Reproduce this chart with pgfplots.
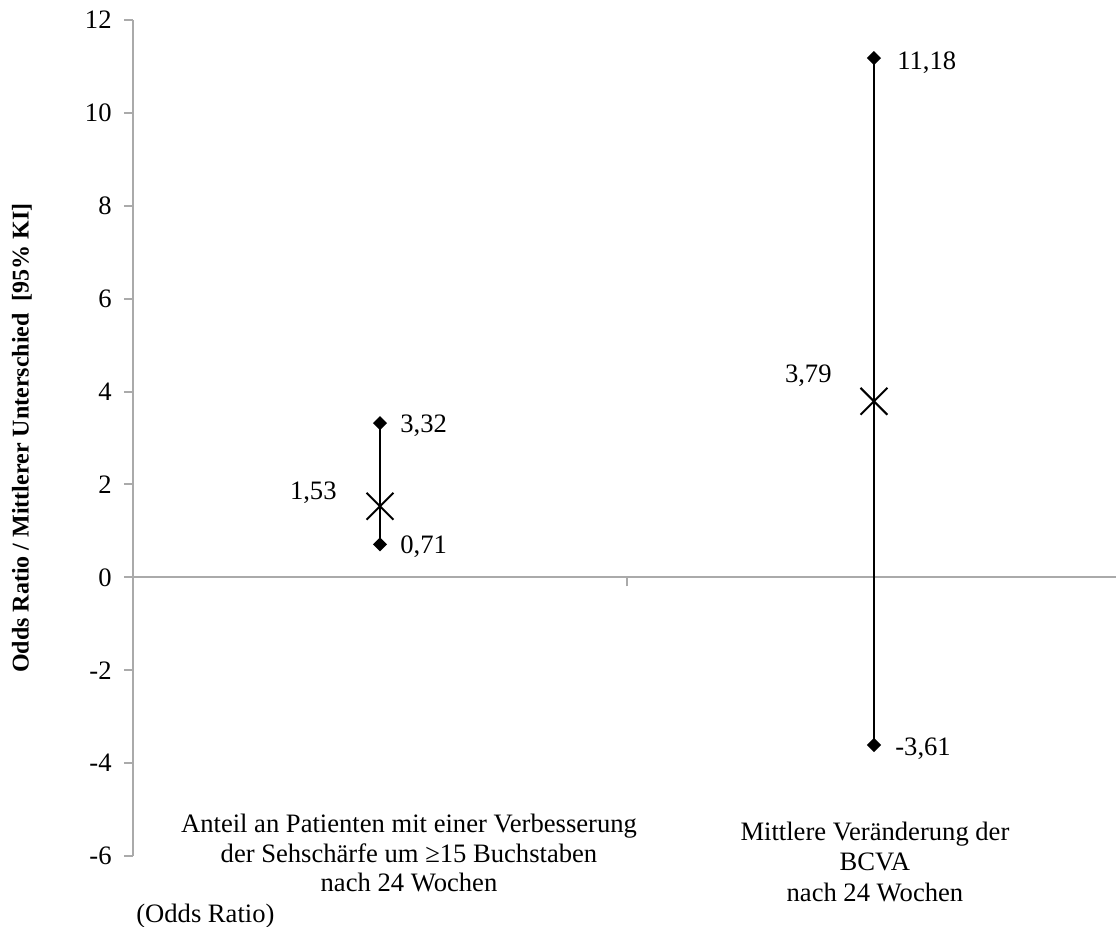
\documentclass[border=0pt]{standalone}
\usepackage{fontspec}
\setmainfont{Liberation Serif}
\usepackage{pgfplots}
\pgfplotsset{compat=1.18}
\definecolor{axgray}{RGB}{170,170,170}
\begin{document}
\begin{tikzpicture}
\useasboundingbox (0,0) rectangle (558pt,463.5pt);
\begin{axis}[
  at={(66.5pt,35.5pt)}, anchor=south west,
  scale only axis, width=491.5pt, height=418pt,
  xmin=0, xmax=1.99, ymin=-6, ymax=12,
  axis x line=middle, axis y line=left,
  axis line style={-, draw=axgray, line width=1pt},
  xtick={1}, xticklabels={},
  ytick={-6,-4,...,12},
  yticklabels={-6,-4,-2,0,2,4,6,8,10,12},
  tick style={draw=axgray, line width=1pt},
  major tick length=4.5pt,
  tick align=outside,
  font=\fontsize{13.3}{15}\selectfont,
  yticklabel style={font=\fontsize{13.3}{15}\selectfont, inner sep=0pt, anchor=east, xshift=-6pt},
  ylabel={Odds Ratio / Mittlerer Unterschied\ \ [95\% KI]},
  every axis y label/.style={at={(axis description cs:-0.1129,0.5)}, rotate=90, anchor=center, font=\bfseries\fontsize{12}{14}\selectfont},
  clip=false,
]
% confidence intervals (lower, upper)
\addplot[black, line width=1pt, mark=square*, mark size=2pt, mark options={rotate=45, solid, fill=black}]
  coordinates {(0.5,0.71) (0.5,3.32)};
\addplot[black, line width=1pt, mark=square*, mark size=2pt, mark options={rotate=45, solid, fill=black}]
  coordinates {(1.5,-3.61) (1.5,11.18)};
% point estimates
\addplot[only marks, black, mark=x, mark size=9.5pt, mark options={line width=1pt}]
  coordinates {(0.5,1.53) (1.5,3.79)};
% value labels
\begin{scope}[every node/.style={inner sep=0pt, font=\fontsize{13.3}{15}\selectfont}]
\node[anchor=base west, xshift=10pt, yshift=-4.5pt] at (axis cs:0.5,3.32) {3,32};
\node[anchor=base west, xshift=10pt, yshift=-4.5pt] at (axis cs:0.5,0.71) {0,71};
\node[anchor=base east, xshift=-21.5pt, yshift=3.35pt] at (axis cs:0.5,1.53) {1,53};
\node[anchor=base west, xshift=11.5pt, yshift=-5.5pt] at (axis cs:1.5,11.18) {11,18};
\node[anchor=base west, xshift=10.5pt, yshift=-5.2pt] at (axis cs:1.5,-3.61) {-3,61};
\node[anchor=base east, xshift=-21pt, yshift=9.5pt] at (axis cs:1.5,3.79) {3,79};
% category labels
\node[anchor=base] at (axis cs:0.5587,-5.485) {Anteil an Patienten mit einer Verbesserung};
\node[anchor=base] at (axis cs:0.5587,-6.13) {der Sehschärfe um ≥15 Buchstaben};
\node[anchor=base] at (axis cs:0.5587,-6.77) {nach 24 Wochen};
\node[anchor=base west] at (axis cs:0.006,-7.44) {(Odds Ratio)};
\node[anchor=base] at (axis cs:1.502,-5.675) {Mittlere Veränderung der};
\node[anchor=base] at (axis cs:1.502,-6.32) {BCVA};
\node[anchor=base] at (axis cs:1.502,-6.97) {nach 24 Wochen};
\end{scope}
\end{axis}
\end{tikzpicture}
\end{document}
